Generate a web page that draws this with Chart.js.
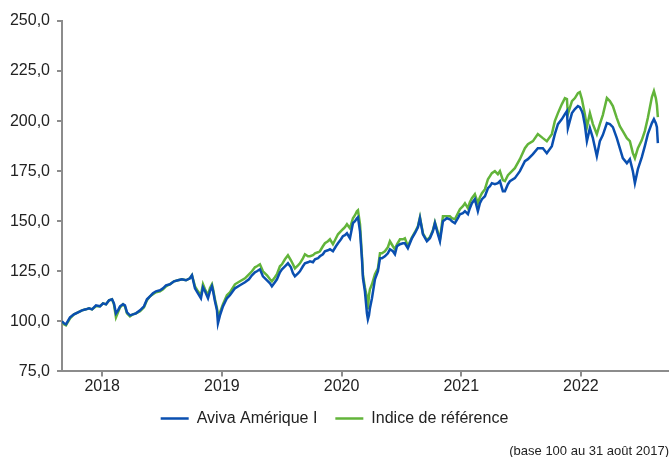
<!DOCTYPE html>
<html>
<head>
<meta charset="utf-8">
<script src="https://cdn.jsdelivr.net/npm/chart.js@4.4.0/dist/chart.umd.min.js"></script>
<style>
  html, body { margin: 0; padding: 0; background: #ffffff; }
  #wrap { width: 669px; height: 457px; position: relative; }
</style>
</head>
<body>
<div id="wrap"><canvas id="c" width="669" height="457"></canvas></div>
<script>
// Dates as decimal years (base 100 au 31 août 2017)
const dates = [
  2017.664, 2017.681, 2017.697, 2017.731, 2017.764, 2017.798, 2017.831, 2017.864, 2017.890, 2017.915,
  2017.948, 2017.981, 2018.007, 2018.032, 2018.057, 2018.082, 2018.098, 2018.115, 2018.132, 2018.149,
  2018.174, 2018.190, 2018.207, 2018.232, 2018.257, 2018.282, 2018.316, 2018.349, 2018.374, 2018.399,
  2018.424, 2018.449, 2018.483, 2018.508, 2018.533, 2018.566, 2018.600, 2018.633, 2018.666, 2018.700,
  2018.733, 2018.750, 2018.775, 2018.800, 2018.825, 2018.842, 2018.859, 2018.884, 2018.900, 2018.917,
  2018.925, 2018.942, 2018.959, 2018.967, 2018.984, 2019.009, 2019.042, 2019.067, 2019.109, 2019.151,
  2019.193, 2019.226, 2019.251, 2019.276, 2019.293, 2019.318, 2019.343, 2019.377, 2019.402, 2019.418,
  2019.443, 2019.460, 2019.485, 2019.502, 2019.527, 2019.552, 2019.577, 2019.594, 2019.610, 2019.636,
  2019.652, 2019.677, 2019.694, 2019.719, 2019.736, 2019.761, 2019.778, 2019.803, 2019.819, 2019.844,
  2019.861, 2019.886, 2019.903, 2019.928, 2019.953, 2019.970, 2019.995, 2020.011, 2020.028, 2020.045,
  2020.070, 2020.095, 2020.112, 2020.128, 2020.137, 2020.154, 2020.170, 2020.179, 2020.195, 2020.212,
  2020.220, 2020.229, 2020.237, 2020.254, 2020.279, 2020.304, 2020.321, 2020.337, 2020.362, 2020.387,
  2020.404, 2020.429, 2020.446, 2020.463, 2020.488, 2020.513, 2020.529, 2020.554, 2020.588, 2020.613,
  2020.638, 2020.655, 2020.680, 2020.713, 2020.738, 2020.763, 2020.780, 2020.805, 2020.822, 2020.847,
  2020.880, 2020.905, 2020.922, 2020.947, 2020.972, 2020.989, 2021.014, 2021.031, 2021.056, 2021.072,
  2021.089, 2021.114, 2021.139, 2021.156, 2021.173, 2021.198, 2021.223, 2021.240, 2021.256, 2021.281,
  2021.306, 2021.323, 2021.348, 2021.365, 2021.390, 2021.407, 2021.448, 2021.490, 2021.532, 2021.557,
  2021.599, 2021.640, 2021.682, 2021.715, 2021.757, 2021.782, 2021.808, 2021.841, 2021.866, 2021.883,
  2021.891, 2021.925, 2021.950, 2021.975, 2021.991, 2022.008, 2022.016, 2022.033, 2022.050, 2022.075,
  2022.100, 2022.133, 2022.158, 2022.183, 2022.217, 2022.242, 2022.267, 2022.300, 2022.325, 2022.350,
  2022.384, 2022.409, 2022.434, 2022.451, 2022.476, 2022.509, 2022.534, 2022.559, 2022.593, 2022.610,
  2022.626, 2022.635, 2022.643
];

const aviva = [
  100, 99, 98.5, 102, 103.5, 104.5, 105.5, 106, 106.5, 106,
  108, 107.5, 109, 108.5, 110.5, 111, 109, 104, 105.5, 107.5,
  108.5, 108, 104.5, 103, 103.5, 104, 105.5, 107.5, 111, 112.5,
  114, 115, 115.5, 116.5, 118, 118.5, 120, 120.5, 121, 120.5,
  121.5, 123, 116.5, 114, 111.5, 117, 115, 111.5, 115, 117.5,
  115.5, 110, 105.5, 99, 103, 107.5, 111.5, 113, 116.5, 118,
  119.5, 121, 123, 124.5, 125, 126, 122.5, 120.5, 119, 117.5,
  119.5, 121, 124.5, 126, 127.5, 129, 127, 124, 122.5, 124,
  125, 127.5, 129, 129.5, 130, 129.5, 131, 131.5, 132.5, 133.5,
  135, 135.5, 136, 135, 137.5, 139, 141, 142.5, 143, 144,
  141.5, 149, 150, 151.5, 152, 145, 131.5, 121.5, 115, 104,
  101, 103, 106.5, 111.5, 121, 125, 131.5, 131.5, 132.5, 134,
  136, 135, 133.5, 137.5, 138.5, 139, 139, 136.5, 141.5, 144,
  147, 151.5, 143.5, 140, 141.5, 145, 149, 143.5, 140, 150,
  151.5, 151, 150, 149, 151.5, 153.5, 154, 155, 153.5, 156.5,
  159, 161, 155, 159, 161, 162.5, 166.5, 167.5, 169, 168.5,
  169, 170, 165, 165, 168.5, 170, 171.5, 175, 180, 181,
  183.5, 186.5, 186.5, 184, 187.5, 193.5, 198.5, 201, 203.5, 205,
  196.5, 204, 206, 207.5, 207, 205, 203.5, 198, 190, 196.5,
  191.5, 182.5, 190, 193, 199, 198.5, 197, 191.5, 186.5, 181.5,
  179, 181, 175, 169, 176, 182, 187.5, 193.5, 199, 201,
  199, 197, 189
];

const indice = [
  100, 98.5, 98, 101.5, 103.5, 104.5, 105.5, 106, 106.5, 106,
  107.5, 107.5, 109, 108.5, 110.5, 111, 108.5, 102, 104.5, 107,
  108.5, 107.5, 104, 102.5, 103.5, 104, 105, 107, 110.5, 112.5,
  113.5, 114.5, 115, 116, 117.5, 118.5, 120, 120.5, 121, 120.5,
  121.5, 123, 117.5, 115, 113, 118.5, 116, 113, 116.5, 118.5,
  116.5, 111, 106.5, 103, 104.5, 108.5, 113, 114.5, 118.5, 120,
  121.5, 123.5, 125, 127, 127.5, 128.5, 125, 123, 121, 120,
  122, 123.5, 127.5, 128.5, 131, 133, 130.5, 128.5, 126.5, 128,
  129, 131.5, 133.5, 132.5, 132.5, 133, 134, 134.5, 135, 137.5,
  139, 140, 141, 138.5, 141.5, 143.5, 145, 146, 147, 148.5,
  146.5, 151.5, 153, 155, 155.5, 148.5, 133, 123, 117, 112,
  106, 113, 116, 118.5, 123.5, 126.5, 134, 134, 135, 137,
  140, 137.5, 136, 138.5, 141, 141, 141.5, 137.5, 142, 144.5,
  147.5, 152, 144, 140.5, 142, 145.5, 149.5, 144.5, 141, 152.5,
  152.5, 152.5, 151.5, 151, 154, 156, 157.5, 159, 156.5, 159.5,
  161.5, 163.5, 159, 162, 164, 166, 171, 172.5, 174, 175,
  173.5, 175, 170.5, 170, 173, 174, 176.5, 181, 186.5, 188.5,
  190, 193.5, 191.5, 190, 193.5, 200, 204, 208.5, 211.5, 211,
  203.5, 210, 211.5, 214, 214.5, 211, 208.5, 203.5, 197, 204,
  198.5, 193.5, 198.5, 203, 211.5, 210, 207.5, 201.5, 197.5, 195,
  191.5, 190, 184, 181.5, 186.5, 190.5, 195, 201.5, 212, 215,
  211.5, 208, 202
];

const yearTicks = [2018, 2019, 2020, 2021, 2022];
const seriesNames = ['Aviva Amérique I', 'Indice de référence'];
const footnote = '(base 100 au 31 août 2017)';

const BLUE = '#0a4fb0';
const GREEN = '#62b43a';
const AXIS = '#8c8c8c';
const TXT = '#222222';
const FONT = "'Liberation Sans', Arial, sans-serif";

const toPts = vals => dates.map((d, i) => ({ x: d, y: vals[i] }));

new Chart(document.getElementById('c'), {
  type: 'line',
  data: {
    datasets: [
      { label: seriesNames[0], data: toPts(aviva), borderColor: BLUE, backgroundColor: BLUE,
        borderWidth: 2.5, pointRadius: 0, tension: 0, pointStyle: 'line' },
      { label: seriesNames[1], data: toPts(indice), borderColor: GREEN, backgroundColor: GREEN,
        borderWidth: 2.5, pointRadius: 0, tension: 0, pointStyle: 'line' }
    ]
  },
  options: {
    responsive: false,
    animation: false,
    devicePixelRatio: 1,
    layout: { padding: { top: 21, right: 0, left: 0, bottom: 0 } },
    scales: {
      x: {
        type: 'linear',
        min: 2017.664,
        max: 2022.736,
        afterBuildTicks: s => { s.ticks = yearTicks.map(v => ({ value: v })); },
        afterFit: s => { s.height = 21; },
        grid: { display: true, drawOnChartArea: false, drawTicks: true, tickLength: 5, color: AXIS, lineWidth: 2 },
        border: { display: true, color: AXIS, width: 2 },
        ticks: { color: TXT, font: { family: FONT, size: 16 }, padding: 1, maxRotation: 0,
                 callback: v => String(v) }
      },
      y: {
        min: 75,
        max: 250,
        afterFit: s => { s.width = 62; },
        grid: { display: true, drawOnChartArea: false, drawTicks: true, tickLength: 5, color: AXIS, lineWidth: 2 },
        border: { display: true, color: AXIS, width: 2 },
        ticks: { stepSize: 25, color: TXT, font: { family: FONT, size: 16 }, padding: 7,
                 callback: v => v.toFixed(1).replace('.', ',') }
      }
    },
    plugins: {
      legend: {
        display: true,
        position: 'bottom',
        labels: { usePointStyle: true, pointStyle: 'line', pointStyleWidth: 28, boxHeight: 2,
                  padding: 18, color: TXT, font: { family: FONT, size: 16 } }
      },
      subtitle: {
        display: true, text: footnote, position: 'bottom', align: 'end',
        color: TXT, font: { family: FONT, size: 13, weight: 'normal' },
        padding: { top: 7, bottom: -2 }
      },
      tooltip: { enabled: false }
    }
  }
});
</script>
</body>
</html>
